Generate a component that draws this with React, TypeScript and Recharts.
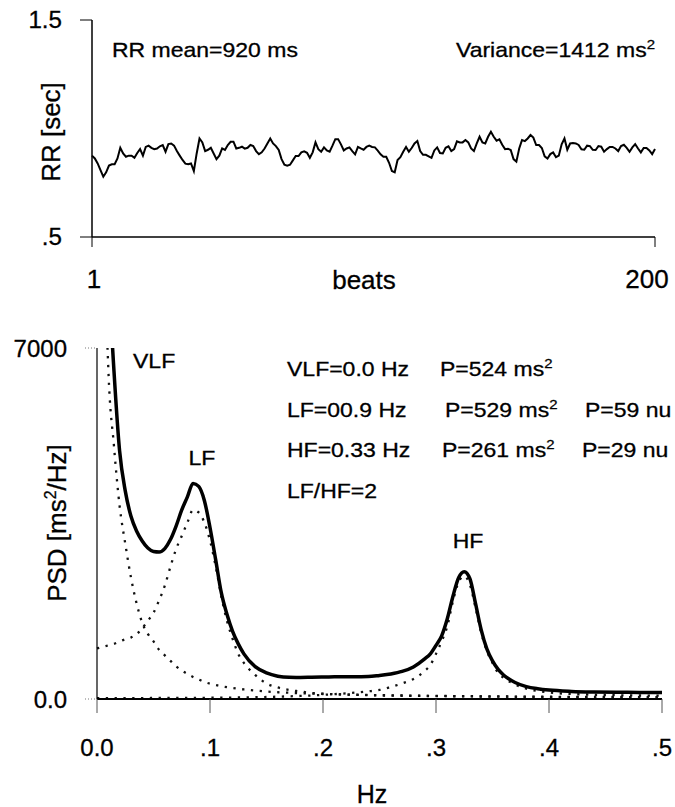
import React from 'react';
import { LineChart, Line, XAxis, YAxis } from 'recharts';

const FONT = '"Liberation Sans", Arial, Helvetica, sans-serif';

// RR intervals (sec), beats 1..200
const RR_SEC = [
  0.875, 0.862, 0.839, 0.808, 0.778, 0.798, 0.829, 0.835, 0.835, 0.862,
  0.911, 0.885, 0.870, 0.875, 0.875, 0.865, 0.887, 0.905, 0.875, 0.915,
  0.921, 0.911, 0.905, 0.908, 0.918, 0.924, 0.893, 0.928, 0.931, 0.921,
  0.896, 0.875, 0.855, 0.838, 0.835, 0.839, 0.804, 0.885, 0.954, 0.936,
  0.896, 0.902, 0.911, 0.885, 0.859, 0.875, 0.908, 0.901, 0.924, 0.939,
  0.939, 0.908, 0.911, 0.916, 0.907, 0.911, 0.924, 0.919, 0.896, 0.882,
  0.890, 0.908, 0.931, 0.954, 0.931, 0.919, 0.901, 0.859, 0.833, 0.829,
  0.833, 0.853, 0.873, 0.873, 0.890, 0.895, 0.888, 0.865, 0.890, 0.936,
  0.905, 0.893, 0.913, 0.899, 0.893, 0.921, 0.951, 0.951, 0.927, 0.899,
  0.908, 0.913, 0.896, 0.881, 0.915, 0.908, 0.902, 0.915, 0.921, 0.915,
  0.913, 0.898, 0.881, 0.870, 0.870, 0.842, 0.804, 0.798, 0.855, 0.868,
  0.893, 0.915, 0.893, 0.910, 0.931, 0.942, 0.896, 0.879, 0.879, 0.872,
  0.865, 0.899, 0.913, 0.887, 0.885, 0.911, 0.918, 0.896, 0.905, 0.941,
  0.936, 0.936, 0.947, 0.936, 0.908, 0.896, 0.931, 0.962, 0.936, 0.931,
  0.962, 0.985, 0.962, 0.944, 0.950, 0.925, 0.905, 0.907, 0.901, 0.859,
  0.847, 0.908, 0.947, 0.942, 0.954, 0.970, 0.958, 0.924, 0.924, 0.910,
  0.872, 0.862, 0.882, 0.890, 0.868, 0.875, 0.927, 0.954, 0.902, 0.931,
  0.933, 0.931, 0.924, 0.904, 0.902, 0.921, 0.919, 0.902, 0.901, 0.919,
  0.916, 0.893, 0.905, 0.915, 0.915, 0.908, 0.896, 0.919, 0.925, 0.911,
  0.893, 0.913, 0.928, 0.908, 0.890, 0.910, 0.910, 0.899, 0.882, 0.905,
];

// power spectrum (ms^2/Hz)
const FREQ_HZ = [
  0, 0.005, 0.01, 0.015, 0.02, 0.025, 0.03, 0.035, 0.04, 0.045,
  0.05, 0.055, 0.06, 0.065, 0.07, 0.075, 0.08, 0.085, 0.09, 0.095,
  0.1, 0.105, 0.11, 0.115, 0.12, 0.125, 0.13, 0.14, 0.15, 0.16,
  0.17, 0.18, 0.19, 0.2, 0.21, 0.22, 0.23, 0.24, 0.25, 0.26,
  0.27, 0.28, 0.29, 0.295, 0.3, 0.305, 0.31, 0.315, 0.32, 0.325,
  0.33, 0.335, 0.34, 0.345, 0.35, 0.355, 0.36, 0.37, 0.38, 0.39,
  0.4, 0.42, 0.44, 0.46, 0.48, 0.5,
];
const PSD_TOTAL = [
  16000, 11500, 8600, 6550, 4950, 4150, 3650, 3350, 3150, 3010,
  2940, 2930, 3000, 3180, 3450, 3770, 4030, 4300, 4240, 3960,
  3420, 2780, 2120, 1690, 1350, 1100, 900, 645, 520, 455,
  432, 430, 435, 440, 442, 445, 445, 447, 470, 500,
  550, 640, 800, 900, 1070, 1260, 1600, 2050, 2420, 2540,
  2400, 1900, 1380, 1000, 760, 590, 475, 330, 248, 205,
  178, 152, 140, 134, 132, 130,
];
const PSD_VLF = [
  30000, 11000, 6600, 5050, 3850, 3100, 2430, 1910, 1520, 1300,
  1150, 980, 870, 760, 650, 570, 500, 440, 390, 340,
  305, 280, 255, 235, 220, 205, 190, 168, 150, 135,
  125, 115, 108, 100, 95, 90, 85, 80, 76, 73,
  70, 67, 64, 63, 62, 61, 60, 59, 58, 57,
  56, 55, 54, 53, 52, 51, 50, 49, 47, 46,
  45, 43, 41, 40, 38, 37,
];
const PSD_LF = [
  1010, 1040, 1070, 1100, 1150, 1190, 1225, 1290, 1410, 1560,
  1720, 1970, 2260, 2640, 2990, 3250, 3520, 3770, 3720, 3520,
  3160, 2650, 2050, 1560, 1200, 900, 720, 480, 310, 230,
  180, 150, 120, 105, 95, 88, 82, 76, 72, 68,
  65, 62, 60, 59, 58, 57, 56, 55, 54, 53,
  52, 51, 50, 49, 48, 47, 46, 44, 42, 40,
  38, 36, 34, 32, 31, 30,
];
const PSD_HF = [
  15, 15, 16, 16, 17, 17, 18, 18, 19, 19,
  20, 20, 21, 21, 22, 22, 23, 23, 24, 24,
  25, 26, 27, 28, 29, 30, 31, 35, 40, 46,
  53, 61, 70, 82, 96, 112, 130, 152, 180, 240,
  310, 400, 560, 680, 900, 1150, 1450, 1950, 2330, 2450,
  2280, 1820, 1320, 960, 720, 520, 420, 290, 205, 160,
  130, 100, 85, 75, 70, 65,
];

const BEAT_TICKS = [1, 200];
const HZ_TICKS = [0, 0.1, 0.2, 0.3, 0.4, 0.5];
const HZ_TICK_LABELS = ['0.0', '.1', '.2', '.3', '.4', '.5'];

const rrData = RR_SEC.map((rr, i) => ({ beat: i + 1, rr }));
const psdData = FREQ_HZ.map((f, i) => ({
  f,
  total: PSD_TOTAL[i],
  vlf: PSD_VLF[i],
  lf: PSD_LF[i],
  hf: PSD_HF[i],
}));

const DOTS = { stroke: '#111', strokeWidth: 2.3, strokeDasharray: '2.3 6.5' };
const INK = { fill: '#000', stroke: '#000', strokeWidth: 0.3 };

function XTick(props: any) {
  const { x, y, payload, size, fmt, shift = 0 } = props;
  return (
    <text x={x + shift} y={y + size * 0.71} textAnchor="middle" fontSize={size} fontFamily={FONT} {...INK}>
      {fmt(payload.value)}
    </text>
  );
}

function YTick(props: any) {
  const { x, y, payload, size, fmt, sx = 1 } = props;
  return (
    <text
      transform={`translate(${x},${y + size * 0.355}) scale(${sx},1)`}
      textAnchor="end"
      fontSize={size}
      fontFamily={FONT}
      {...INK}
    >
      {fmt(payload.value)}
    </text>
  );
}

// wide text, as in the scanned figure
function T({ x, y, size = 20, anchor = 'start', sx = 1.15, children }: any) {
  return (
    <text
      transform={`translate(${x},${y}) scale(${sx},1)`}
      textAnchor={anchor}
      fontSize={size}
      fontFamily={FONT}
      {...INK}
    >
      {children}
    </text>
  );
}

const sup = (s: string) => (
  <tspan dy={-8} fontSize={13}>
    {s}
  </tspan>
);

export default function App() {
  return (
    <div style={{ position: 'absolute', left: 0, top: 0, width: 675, height: 807, background: '#fff' }}>
      <div style={{ position: 'absolute', left: 0, top: 0 }}>
        <LineChart width={675} height={300} data={rrData} margin={{ top: 20, right: 20, left: 0, bottom: 0 }}>
          <XAxis
            dataKey="beat"
            type="number"
            domain={[1, 200]}
            ticks={BEAT_TICKS}
            height={63}
            axisLine={{ stroke: '#000', strokeWidth: 1.5 }}
            tickLine={{ stroke: '#000' }}
            tickSize={10}
            tickMargin={23}
            tick={(p: any) => (
              <XTick {...p} size={26} shift={p.payload.value === 200 ? -8 : 2} fmt={(v: number) => String(v)} />
            )}
          />
          <YAxis
            type="number"
            domain={[0.5, 1.5]}
            ticks={[0.5, 1.5]}
            width={92}
            axisLine={{ stroke: '#000', strokeWidth: 1.5 }}
            tickLine={{ stroke: '#000' }}
            tickSize={12}
            tickMargin={18}
            tick={(p: any) => (
              <YTick {...p} size={23} sx={1.05} fmt={(v: number) => (v === 1.5 ? '1.5' : '.5')} />
            )}
          />
          <Line
            dataKey="rr"
            type="linear"
            stroke="#000"
            strokeWidth={2}
            dot={false}
            isAnimationActive={false}
          />
        </LineChart>
      </div>

      <div style={{ position: 'absolute', left: 0, top: 310 }}>
        <LineChart width={675} height={497} data={psdData} margin={{ top: 38, right: 13, left: 0, bottom: 0 }}>
          <XAxis
            dataKey="f"
            type="number"
            domain={[0, 0.5]}
            ticks={HZ_TICKS}
            height={108}
            axisLine={{ stroke: '#000', strokeWidth: 2 }}
            tickLine={{ stroke: '#555' }}
            tickSize={14}
            tickMargin={26}
            tick={(p: any) => (
              <XTick {...p} size={24} fmt={(v: number) => HZ_TICK_LABELS[HZ_TICKS.indexOf(v)]} />
            )}
          />
          <YAxis
            type="number"
            domain={[0, 7000]}
            ticks={[0, 7000]}
            allowDataOverflow
            width={97}
            axisLine={{ stroke: '#000', strokeWidth: 1.2 }}
            tickLine={{ stroke: '#777', strokeDasharray: '1 2' }}
            tickSize={12}
            tickMargin={18}
            tick={(p: any) => <YTick {...p} size={24} fmt={(v: number) => (v === 0 ? '0.0' : String(v))} />}
          />
          <Line dataKey="hf" type="monotone" {...DOTS} dot={false} isAnimationActive={false} />
          <Line dataKey="vlf" type="monotone" {...DOTS} dot={false} isAnimationActive={false} />
          <Line dataKey="lf" type="monotone" {...DOTS} dot={false} isAnimationActive={false} />
          <Line
            dataKey="total"
            type="monotone"
            stroke="#000"
            strokeWidth={3.5}
            dot={false}
            isAnimationActive={false}
          />
        </LineChart>
      </div>

      <svg width={675} height={807} style={{ position: 'absolute', left: 0, top: 0, pointerEvents: 'none' }}>
        {/* tachogram */}
        <T x={112} y={57}>RR mean=920 ms</T>
        <T x={655} y={57} anchor="end">
          Variance=1412 ms{sup('2')}
        </T>
        <text transform="translate(60,132) rotate(-90)" textAnchor="middle" fontSize={26} fontFamily={FONT} {...INK}>
          RR [sec]
        </text>
        <T x={364} y={289} size={26} anchor="middle" sx={1}>
          beats
        </T>

        {/* spectrum */}
        <text transform="translate(66,523) rotate(-90)" textAnchor="middle" fontSize={26} fontFamily={FONT} {...INK}>
          PSD [ms
          <tspan dy={-10} fontSize={16}>
            2
          </tspan>
          <tspan dy={10}>/Hz]</tspan>
        </text>
        <T x={372} y={803} size={25} anchor="middle" sx={1}>
          Hz
        </T>

        <T x={133} y={368}>VLF</T>
        <T x={202} y={465} anchor="middle">LF</T>
        <T x={468} y={548} anchor="middle">HF</T>

        <T x={287} y={376}>VLF=0.0 Hz</T>
        <T x={440} y={376}>P=524 ms{sup('2')}</T>
        <T x={287} y={417}>LF=00.9 Hz</T>
        <T x={445} y={417}>P=529 ms{sup('2')}</T>
        <T x={585} y={417}>P=59 nu</T>
        <T x={287} y={457}>HF=0.33 Hz</T>
        <T x={442} y={457}>P=261 ms{sup('2')}</T>
        <T x={582} y={457}>P=29 nu</T>
        <T x={287} y={498}>LF/HF=2</T>
      </svg>
    </div>
  );
}
